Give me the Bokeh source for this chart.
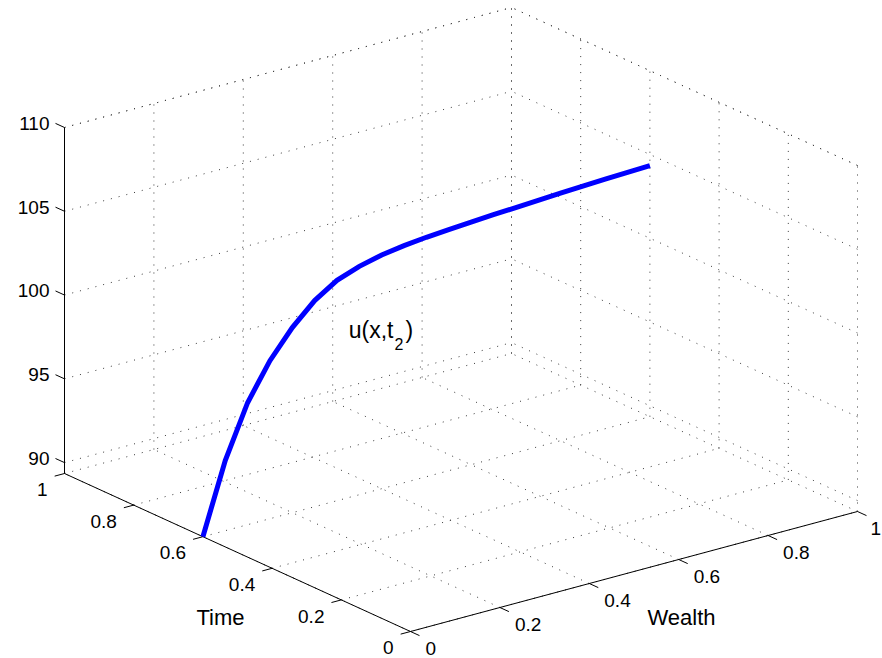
import numpy as np
from bokeh.plotting import figure
from bokeh.models import Range1d
from bokeh.core.properties import value
from bokeh.embed import file_html
from bokeh.resources import INLINE

# ---------------- data ----------------
wealth = [0.00, 0.05, 0.10, 0.15, 0.20, 0.25, 0.30, 0.35, 0.40, 0.45, 0.50,
          0.55, 0.60, 0.65, 0.70, 0.75, 0.80, 0.85, 0.90, 0.95, 1.00]
u_t2 = [89.35, 93.54, 96.63, 98.78, 100.40, 101.65, 102.50, 102.98, 103.30, 103.50, 103.64,
        103.74, 103.83, 103.91, 103.98, 104.05, 104.12, 104.18, 104.24, 104.29, 104.34]
t2 = 0.6

wealth_ticks = [0, 0.2, 0.4, 0.6, 0.8, 1]
wealth_tick_labels = ["0", "0.2", "0.4", "0.6", "0.8", "1"]
time_ticks = [0, 0.2, 0.4, 0.6, 0.8, 1]
time_tick_labels = ["0", "0.2", "0.4", "0.6", "0.8", "1"]
u_ticks = [90, 95, 100, 105, 110]
u_tick_labels = ["90", "95", "100", "105", "110"]
x_lim = (0.0, 1.0)
t_lim = (0.0, 1.0)
u_lim = (89.35, 110.0)

# ---------------- view (orthographic projection, pixel space) ----------------
ORIGIN = (410.0, 631.0)
EX = (447.0, -120.0)
EY = (-346.0, -158.0)
EZ = 346.0


def proj(x, t, u):
    x = np.atleast_1d(np.asarray(x, float))
    t = np.atleast_1d(np.asarray(t, float))
    u = np.atleast_1d(np.asarray(u, float))
    fx = (x - x_lim[0]) / (x_lim[1] - x_lim[0])
    ft = (t - t_lim[0]) / (t_lim[1] - t_lim[0])
    fu = (u - u_lim[0]) / (u_lim[1] - u_lim[0])
    sx = ORIGIN[0] + fx * EX[0] + ft * EY[0]
    sy = ORIGIN[1] + fx * EX[1] + ft * EY[1] - fu * EZ
    return sx, sy


W, H = 882, 658
p = figure(width=W, height=H, x_range=Range1d(0, W), y_range=Range1d(H, 0),
           output_backend="svg", toolbar_location=None, min_border=0,
           x_axis_type=None, y_axis_type=None, outline_line_color=None,
           background_fill_color="white", border_fill_color="white")
p.grid.visible = False

x0, x1 = x_lim
t0, t1 = t_lim
u0, u1 = u_lim

# ---------------- grid (dotted) ----------------
segs = []
for wx in wealth_ticks:
    segs.append(((wx, t0, u0), (wx, t1, u0)))   # floor
    segs.append(((wx, t1, u0), (wx, t1, u1)))   # back wall
for tt in time_ticks:
    segs.append(((x0, tt, u0), (x1, tt, u0)))   # floor
    segs.append(((x1, tt, u0), (x1, tt, u1)))   # right wall
for uu in u_ticks + [u1]:
    segs.append(((x0, t1, uu), (x1, t1, uu)))   # back wall
    segs.append(((x1, t0, uu), (x1, t1, uu)))   # right wall

gxs, gys = [], []
for a, b in segs:
    sx, sy = proj([a[0], b[0]], [a[1], b[1]], [a[2], b[2]])
    gxs.append(list(sx))
    gys.append(list(sy))
p.multi_line(gxs, gys, line_color="#3a3a3a", line_width=1, line_dash="1 7")

# ---------------- axes ----------------
axs, ays = [], []
for a, b in [((x0, t1, u0), (x0, t1, u1)),
             ((x0, t0, u0), (x0, t1, u0)),
             ((x0, t0, u0), (x1, t0, u0))]:
    sx, sy = proj([a[0], b[0]], [a[1], b[1]], [a[2], b[2]])
    axs.append(list(sx))
    ays.append(list(sy))

TL_X = 0.022 * (x1 - x0)
TL_T = 0.026 * (t1 - t0)
for uu in u_ticks:
    sx, sy = proj([x0, x0], [t1, t1 + TL_T], [uu, uu])
    axs.append(list(sx)); ays.append(list(sy))
for tt in time_ticks:
    sx, sy = proj([x0, x0 - TL_X], [tt, tt], [u0, u0])
    axs.append(list(sx)); ays.append(list(sy))
for wx in wealth_ticks:
    sx, sy = proj([wx, wx], [t0, t0 - TL_T], [u0, u0])
    axs.append(list(sx)); ays.append(list(sy))
p.multi_line(axs, ays, line_color="black", line_width=1)

# ---------------- curve ----------------
cx, cy = proj(wealth, [t2] * len(wealth), u_t2)
p.line(list(cx), list(cy), line_color="#0000ff", line_width=5, line_join="miter")

# ---------------- tick labels ----------------
FONT = value("Liberation Sans")
TICK_FS = "19px"
LAB_FS = "22px"

sx, sy = proj([x0] * len(u_ticks), [t1 + TL_T] * len(u_ticks), u_ticks)
p.text(list(sx - 6), list(sy), text=u_tick_labels, text_font=FONT, text_font_size=TICK_FS,
       text_align="right", text_baseline="middle", text_color="black")

sx, sy = proj([x0 - TL_X] * len(time_ticks), time_ticks, [u0] * len(time_ticks))
p.text(list(sx - 7), list(sy + 13.5), text=time_tick_labels, text_font=FONT, text_font_size=TICK_FS,
       text_align="right", text_baseline="middle", text_color="black")

sx, sy = proj(wealth_ticks, [t0 - TL_T] * len(wealth_ticks), [u0] * len(wealth_ticks))
sx = np.minimum(sx + 6, 870)
p.text(list(sx), list(sy + 12.5), text=wealth_tick_labels, text_font=FONT, text_font_size=TICK_FS,
       text_align="left", text_baseline="middle", text_color="black")

# axis titles
p.text([220], [617], text=["Time"], text_font=FONT, text_font_size=LAB_FS,
       text_align="center", text_baseline="middle", text_color="black")
p.text([681], [617], text=["Wealth"], text_font=FONT, text_font_size=LAB_FS,
       text_align="center", text_baseline="middle", text_color="black")

# curve annotation u(x,t_2)
p.text([393], [329], text=["u(x,t"], text_font=FONT, text_font_size="23px",
       text_align="right", text_baseline="alphabetic", text_color="black")
p.text([394], [343], text=["2"], text_font=FONT, text_font_size="16px",
       text_align="left", text_baseline="alphabetic", text_color="black")
p.text([405], [329], text=[")"], text_font=FONT, text_font_size="23px",
       text_align="left", text_baseline="alphabetic", text_color="black")

open("out.html", "w").write(file_html(p, INLINE))
